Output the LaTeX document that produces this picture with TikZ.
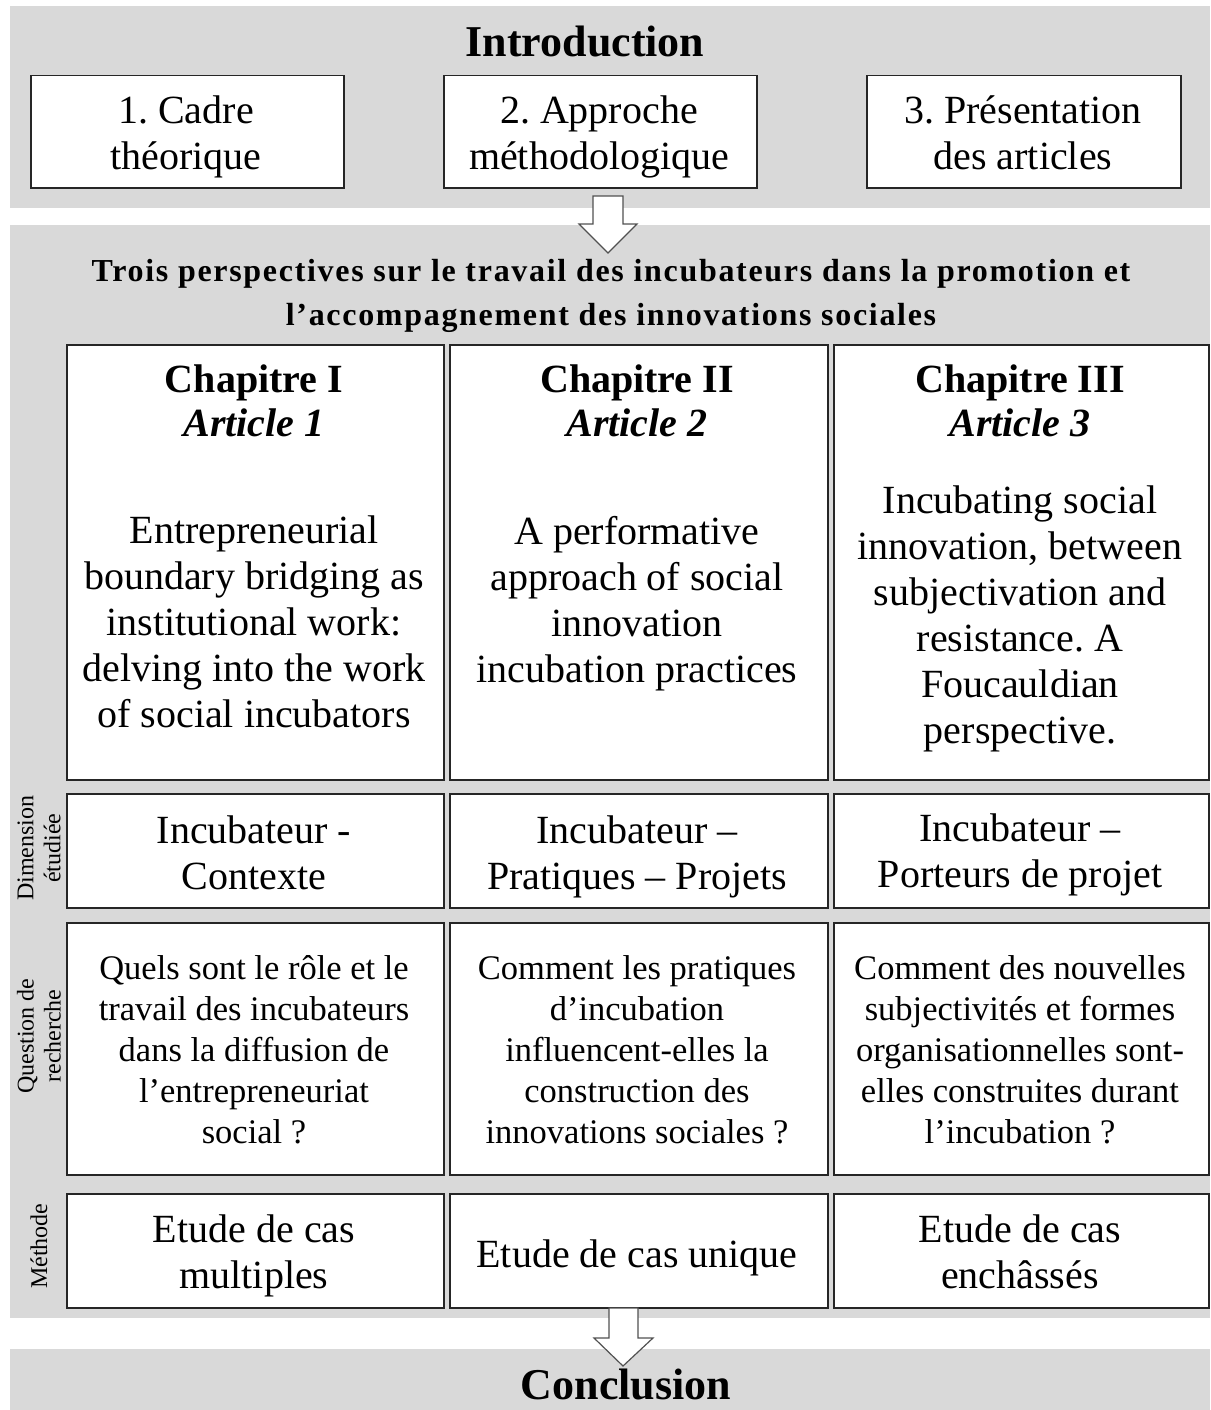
\documentclass[tikz,border=0pt]{standalone}
\usepackage{fontspec}
\setmainfont{Liberation Serif}
\newfontfamily\spacedserif[LetterSpace=5.3]{Liberation Serif}
\frenchspacing
\definecolor{panelgray}{HTML}{D9D9D9}
\definecolor{edge}{HTML}{262626}
\begin{document}
\begin{tikzpicture}[x=1pt,y=-1pt,
  panel/.style={fill=panelgray, draw=none},
  cell/.style={draw=edge, line width=1.5pt, fill=white, inner sep=0pt, anchor=north west},
  struts/.style={execute at begin node=\strut, execute at end node=\strut},
  big/.style={align=center, inner sep=0pt, font=\fontsize{40}{46}\selectfont, struts},
  head/.style={align=center, inner sep=0pt, font=\fontsize{40}{44}\selectfont\bfseries, struts},
  mid/.style={align=center, inner sep=0pt, font=\fontsize{34.5}{41}\selectfont, struts},
  side/.style={align=center, inner sep=0pt, rotate=90, font=\fontsize{24}{27}\selectfont},
  title/.style={inner sep=0pt, font=\fontsize{44}{50}\selectfont\bfseries},
  blockarrow/.style={draw=edge!80, line width=1.2pt, fill=white, line join=miter}
]
\useasboundingbox (0,0) rectangle (1210,1410);
% panels
\fill[panel] (10,6) rectangle (1210,208);
\fill[panel] (10,225) rectangle (1210,1318);
\fill[panel] (10,1349) rectangle (1210,1410);

% introduction
\node[title] (intro) at (585,42) {Introduction};
\node[cell, minimum width=313, minimum height=112] (i1) at (30,75) {};
\node[cell, minimum width=313, minimum height=112] (i2) at (443,75) {};
\node[cell, minimum width=314, minimum height=112] (i3) at (866,75) {};
\node[big] (i1t) at (186,139.5) {1. Cadre\\théorique};
\node[big] (i2t) at (599,139.5) {2. Approche\\méthodologique};
\node[big] (i3t) at (1023,139.5) {3. Présentation\\des articles};

% subtitle
\node[align=center, inner sep=0pt, font=\fontsize{32}{44}\spacedserif\bfseries, struts] (sub) at (611,298.5)
  {Trois perspectives sur le travail des incubateurs dans la promotion et\\l’accompagnement des innovations sociales};

% row 1
\node[cell, minimum width=377, minimum height=435] (a1) at (66,344) {};
\node[cell, minimum width=378, minimum height=435] (a2) at (449,344) {};
\node[cell, minimum width=375, minimum height=435] (a3) at (833,344) {};
\node[head] (h1) at (254,407.5) {Chapitre I\\\itshape Article 1};
\node[head] (h2) at (637,407.5) {Chapitre II\\\itshape Article 2};
\node[head] (h3) at (1020,407.5) {Chapitre III\\\itshape Article 3};
\node[big] (b1) at (254,628.5) {Entrepreneurial\\boundary bridging as\\institutional work:\\delving into the work\\of social incubators};
\node[big] (b2) at (637,606) {A performative\\approach of social\\innovation\\incubation practices};
\node[big] (b3) at (1020,621.5) {Incubating social\\innovation, between\\subjectivation and\\resistance. A\\Foucauldian\\perspective.};

% row 2
\node[cell, minimum width=377, minimum height=114] (d1) at (66,793) {};
\node[cell, minimum width=378, minimum height=114] (d2) at (449,793) {};
\node[cell, minimum width=375, minimum height=114] (d3) at (833,793) {};
\node[big] (d1t) at (254,859.5) {Incubateur -\\Contexte};
\node[big] (d2t) at (637,859.5) {Incubateur –\\Pratiques – Projets};
\node[big] (d3t) at (1020,858) {Incubateur –\\Porteurs de projet};

% row 3
\node[cell, minimum width=377, minimum height=252] (q1) at (66,922) {};
\node[cell, minimum width=378, minimum height=252] (q2) at (449,922) {};
\node[cell, minimum width=375, minimum height=252] (q3) at (833,922) {};
\node[mid] (q1t) at (254,1055.5) {Quels sont le rôle et le\\travail des incubateurs\\dans la diffusion de\\l’entrepreneuriat\\social ?};
\node[mid] (q2t) at (637,1055.5) {Comment les pratiques\\d’incubation\\influencent-elles la\\construction des\\innovations sociales ?};
\node[mid] (q3t) at (1020,1055.5) {Comment des nouvelles\\subjectivités et formes\\organisationnelles sont-\\elles construites durant\\l’incubation ?};

% row 4
\node[cell, minimum width=377, minimum height=114] (m1) at (66,1193) {};
\node[cell, minimum width=378, minimum height=114] (m2) at (449,1193) {};
\node[cell, minimum width=375, minimum height=114] (m3) at (833,1193) {};
\node[big] (m1t) at (254,1258.5) {Etude de cas\\multiples};
\node[big] (m2t) at (637,1258.5) {Etude de cas unique};
\node[big] (m3t) at (1020,1258.5) {Etude de cas\\enchâssés};

% side labels
\node[side] (s1) at (39,848) {Dimension\\étudiée};
\node[side] (s2) at (39,1036) {Question de\\recherche};
\node[side] (s3) at (39,1246) {Méthode};

% conclusion
\node[title] (concl) at (626,1384) {Conclusion};

% block arrows
\coordinate (ar1) at (608,196);
\draw[blockarrow] (ar1) ++(-15,0) -- ++(0,28) -- ++(-14,0) -- (608,253) -- (637,224) -- ++(-14,0) -- ++(0,-28) -- cycle;
\coordinate (ar2) at (623,1308);
\draw[blockarrow] (ar2) ++(-14,0) -- ++(0,30) -- ++(-15,0) -- (623,1366) -- (653,1338) -- ++(-15,0) -- ++(0,-30) -- cycle;
\end{tikzpicture}
\end{document}
